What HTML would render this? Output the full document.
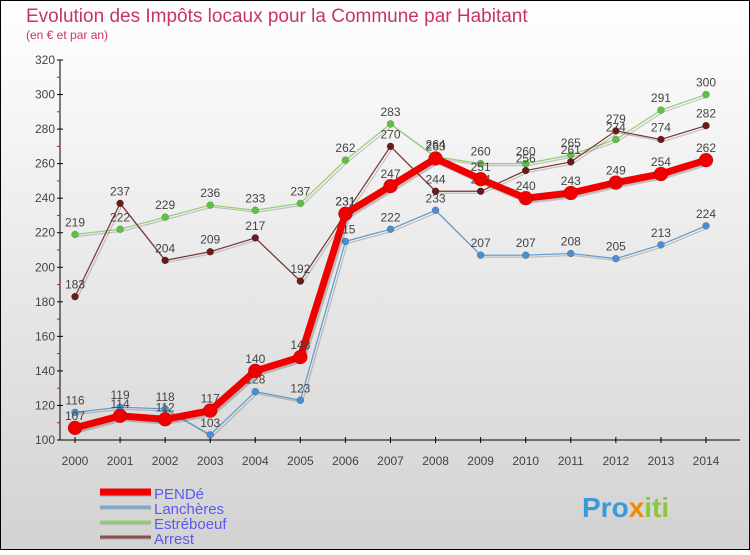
<!DOCTYPE html>
<html><head><meta charset="utf-8"><style>
body{margin:0;width:750px;height:550px;overflow:hidden;font-family:"Liberation Sans",sans-serif}
</style></head><body>
<svg id="c" width="750" height="550" xmlns="http://www.w3.org/2000/svg" font-family="Liberation Sans, sans-serif">
<defs><linearGradient id="bg" x1="0" y1="0" x2="0" y2="1"><stop offset="0" stop-color="#ffffff"/><stop offset="1" stop-color="#d2d2d2"/></linearGradient></defs>
<rect x="0.5" y="0.5" width="749" height="549" fill="url(#bg)" stroke="#000"/>
<text x="26" y="22" font-size="19" fill="#c8336a">Evolution des Impôts locaux pour la Commune par Habitant</text>
<text x="26" y="39" font-size="12" fill="#c8336a">(en € et par an)</text>
<g id="g"></g>
<text x="582" y="517" font-size="28" font-weight="bold" fill="#3a9ad9">Pro<tspan fill="#f08a00">x</tspan><tspan fill="#8cc63f">iti</tspan></text>
</svg>
<script>
const years=[2000,2001,2002,2003,2004,2005,2006,2007,2008,2009,2010,2011,2012,2013,2014];
const yTicks=[100,120,140,160,180,200,220,240,260,280,300,320];
const pende=[107,114,112,117,140,148,231,247,263,251,240,243,249,254,262];
const lancheres=[116,119,118,103,128,123,215,222,233,207,207,208,205,213,224];
const estreboeuf=[219,222,229,236,233,237,262,283,264,260,260,265,274,291,300];
const arrest=[183,237,204,209,217,192,231,270,244,244,256,261,279,274,282];
const NS="http://www.w3.org/2000/svg",g=document.getElementById('g');
const X=i=>75+i*(706-75)/14, Y=v=>440-(v-100)*380/220;
function el(t,a,p){const e=document.createElementNS(NS,t);for(const k in a)e.setAttribute(k,a[k]);(p||g).appendChild(e);return e;}
let ax=el('line',{x1:60,y1:60,x2:60,y2:440,stroke:'#000'});

let bx=el('line',{x1:60,y1:440,x2:740,y2:440,stroke:'#000'});

yTicks.forEach((v,i)=>{el('line',{x1:57,y1:Y(v),x2:63,y2:Y(v),stroke:'#000'});
 if(i<yTicks.length-1)el('line',{x1:57,y1:Y(v+10),x2:60,y2:Y(v+10),stroke:'#f00'});
 const t=el('text',{x:55,y:Y(v)+4,'font-size':12,fill:'#444','text-anchor':'end'});t.textContent=v;
 });
years.forEach((y,i)=>{el('line',{x1:X(i),y1:437,x2:X(i),y2:443,stroke:'#000'});
 const t=el('text',{x:X(i),y:465,'font-size':12,fill:'#444','text-anchor':'middle'});t.textContent=y;
 });
const series=[[lancheres,'#5b9bd0','#4a90d0',1.2,3.5,'lancheres'],[estreboeuf,'#90d070','#60c040',1.2,3.5,'estreboeuf'],[arrest,'#7a3030','#6a1a1a',1.2,3.5,'arrest'],[pende,'#f00000','#f00000',7,7,'pende']];
series.forEach(([d,c,pc,w,r,n])=>{
 const s=el('g',{});
 const pts=d.map((v,i)=>X(i)+','+Y(v)).join(' ');
 el('polyline',{points:d.map((v,i)=>(X(i)+2)+','+(Y(v)+2)).join(' '),fill:'none',stroke:'rgba(0,0,0,0.2)','stroke-width':w},s);
 el('polyline',{points:pts,fill:'none',stroke:c,'stroke-width':w,'stroke-linejoin':'round'},s);
 d.forEach((v,i)=>{const p=el('circle',{cx:X(i),cy:Y(v),r:r,fill:pc,stroke:'rgba(0,0,0,0.3)','stroke-width':0.5},s);
  
  const t=el('text',{x:X(i),y:Y(v)-8,'font-size':12,fill:'#444','text-anchor':'middle'},s);t.textContent=v;
  });
});
const leg=[['PENDé','#f00000',7],['Lanchères','#7aaad0',3],['Estréboeuf','#90d070',3],['Arrest','#8a5050',3]];
leg.forEach(([n,c,w],i)=>{const y=492+i*15;
 const e=el('g',{});
 el('line',{x1:100,y1:y+1,x2:151,y2:y+1,stroke:'rgba(0,0,0,0.2)','stroke-width':w},e);
 el('line',{x1:100,y1:y,x2:151,y2:y,stroke:c,'stroke-width':w},e);
 const t=el('text',{x:154,y:y+7,'font-size':15,fill:'#5a5af0'},e);t.textContent=n;});
</script>
</body></html>
